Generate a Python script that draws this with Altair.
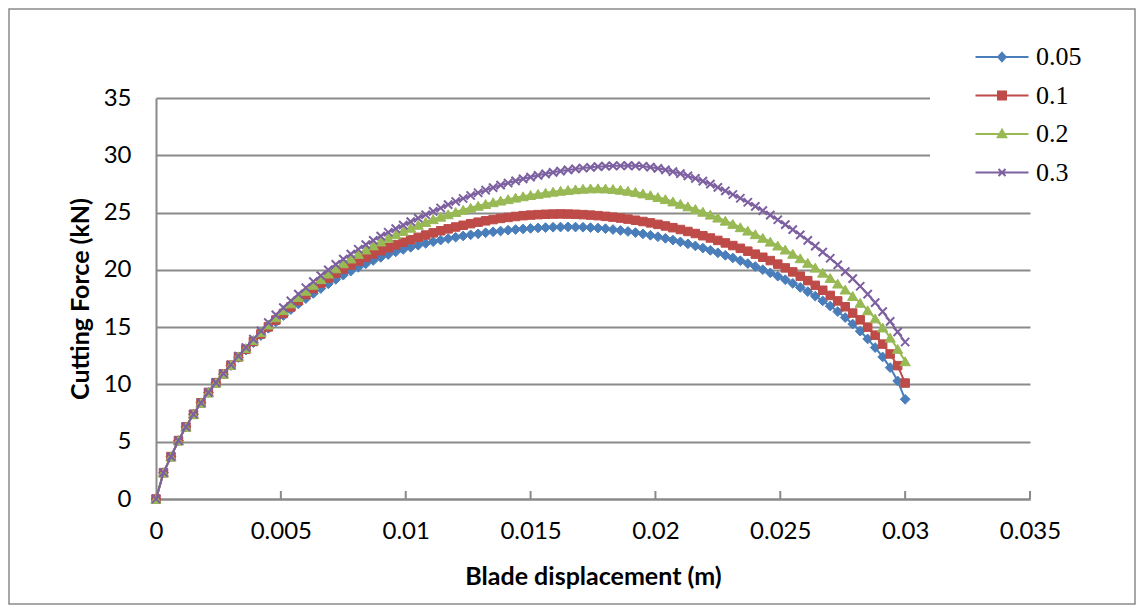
import altair as alt
import pandas as pd

# ---------------- data ----------------
series_names = ["0.05", "0.1", "0.2", "0.3"]
series_colors = ["#4A7EBB", "#BE4B48", "#98B954", "#7D60A0"]

step_m = 0.0003
displacement = [round(step_m * i, 4) for i in range(101)]

force_005 = [
    0, 2.3, 3.7, 5.1, 6.3, 7.4, 8.4, 9.3, 10.15, 10.9, 11.65,
    12.35, 13.0, 13.65, 14.27, 14.9, 15.47, 16.01, 16.53, 17.02, 17.49,
    17.94, 18.37, 18.78, 19.17, 19.54, 19.89, 20.22, 20.53, 20.82, 21.09,
    21.34, 21.57, 21.78, 21.97, 22.15, 22.31, 22.46, 22.6, 22.73, 22.85,
    22.96, 23.06, 23.15, 23.24, 23.32, 23.39, 23.46, 23.52, 23.57, 23.62,
    23.66, 23.69, 23.72, 23.74, 23.75, 23.74, 23.72, 23.69, 23.65, 23.59,
    23.52, 23.44, 23.35, 23.25, 23.14, 23.02, 22.89, 22.75, 22.6, 22.44,
    22.27, 22.09, 21.9, 21.7, 21.49, 21.27, 21.04, 20.8, 20.55, 20.29,
    20.02, 19.74, 19.45, 19.14, 18.82, 18.47, 18.1, 17.71, 17.29, 16.84,
    16.36, 15.84, 15.27, 14.65, 13.97, 13.22, 12.4, 11.47, 10.3, 8.7,
]
force_01 = [
    0, 2.3, 3.7, 5.1, 6.3, 7.4, 8.4, 9.3, 10.15, 10.92, 11.68,
    12.4, 13.08, 13.75, 14.4, 15.02, 15.62, 16.2, 16.76, 17.31, 17.84,
    18.36, 18.84, 19.28, 19.69, 20.07, 20.43, 20.77, 21.09, 21.39, 21.67,
    21.93, 22.18, 22.41, 22.63, 22.84, 23.04, 23.23, 23.41, 23.58, 23.74,
    23.89, 24.03, 24.16, 24.28, 24.39, 24.49, 24.58, 24.66, 24.73, 24.78,
    24.82, 24.85, 24.87, 24.88, 24.87, 24.85, 24.82, 24.78, 24.73, 24.67,
    24.6, 24.52, 24.43, 24.33, 24.22, 24.1, 23.97, 23.83, 23.68, 23.52,
    23.35, 23.17, 22.98, 22.78, 22.57, 22.35, 22.12, 21.88, 21.63, 21.37,
    21.1, 20.81, 20.5, 20.17, 19.82, 19.45, 19.06, 18.65, 18.22, 17.77,
    17.29, 16.78, 16.23, 15.64, 15.0, 14.3, 13.52, 12.66, 11.64, 10.12,
]
force_02 = [
    0, 2.3, 3.7, 5.1, 6.3, 7.4, 8.4, 9.3, 10.15, 10.93, 11.7,
    12.45, 13.17, 13.88, 14.56, 15.22, 15.86, 16.48, 17.07, 17.63, 18.17,
    18.69, 19.19, 19.67, 20.13, 20.57, 20.99, 21.39, 21.77, 22.13, 22.47,
    22.79, 23.1, 23.39, 23.67, 23.93, 24.18, 24.42, 24.64, 24.85, 25.05,
    25.24, 25.42, 25.59, 25.75, 25.9, 26.04, 26.17, 26.3, 26.42, 26.53,
    26.63, 26.73, 26.82, 26.9, 26.97, 27.03, 27.08, 27.11, 27.12, 27.1,
    27.06, 26.99, 26.9, 26.8, 26.67, 26.52, 26.35, 26.17, 25.97, 25.76,
    25.54, 25.31, 25.07, 24.82, 24.56, 24.29, 24.01, 23.72, 23.42, 23.11,
    22.79, 22.46, 22.12, 21.77, 21.4, 21.01, 20.61, 20.19, 19.75, 19.29,
    18.8, 18.28, 17.72, 17.12, 16.47, 15.76, 14.97, 14.08, 13.1, 12.02,
]
force_03 = [
    0, 2.3, 3.7, 5.1, 6.3, 7.4, 8.4, 9.3, 10.16, 10.95, 11.72,
    12.48, 13.22, 13.95, 14.68, 15.39, 16.07, 16.71, 17.3, 17.88, 18.44,
    18.98, 19.5, 20.0, 20.48, 20.94, 21.38, 21.8, 22.2, 22.58, 22.94,
    23.28, 23.6, 23.91, 24.21, 24.51, 24.81, 25.11, 25.4, 25.69, 25.97,
    26.23, 26.49, 26.73, 26.96, 27.18, 27.39, 27.58, 27.77, 27.94, 28.1,
    28.25, 28.38, 28.51, 28.62, 28.72, 28.81, 28.89, 28.95, 29.01, 29.05,
    29.08, 29.09, 29.1, 29.08, 29.04, 28.96, 28.86, 28.73, 28.58, 28.4,
    28.2, 27.98, 27.74, 27.48, 27.2, 26.9, 26.58, 26.25, 25.9, 25.54,
    25.17, 24.78, 24.37, 23.95, 23.51, 23.05, 22.57, 22.07, 21.55, 21.01,
    20.44, 19.85, 19.23, 18.57, 17.88, 17.14, 16.35, 15.5, 14.58, 13.7,
]

x_ticks = [0, 0.005, 0.01, 0.015, 0.02, 0.025, 0.03, 0.035]
y_ticks = [0, 5, 10, 15, 20, 25, 30, 35]

# ---------------- build table ----------------
all_forces = [force_005, force_01, force_02, force_03]
rows = []
for name, vals in zip(series_names, all_forces):
    for xv, fv in zip(displacement, vals):
        rows.append({"x": xv, "force": fv, "series": name})
df = pd.DataFrame(rows)
ticks_df = pd.DataFrame({"x": x_ticks[1:]})

# ---------------- style ----------------
W, H = 874, 401
PAD_L, PAD_T, PAD_R, PAD_B = 148, 90, 106, 106
GRID = "#8a8a8a"
FONT = "Lato"

x_enc = alt.X(
    "x:Q",
    scale=alt.Scale(domain=[0, 0.035], nice=False, zero=False),
    axis=alt.Axis(
        values=x_ticks, format="~g", grid=False, ticks=False,
        domainColor=GRID, domainWidth=2,
        labelFont=FONT, labelFontSize=24, labelColor="black",
        labelPadding=20, labelFlush=False, labelOverlap=False,
        title="Blade displacement (m)", titleFont=FONT, titleFontSize=25,
        titleFontWeight="bold", titleColor="black",
        titleY=77, titleBaseline="middle",
    ),
)
y_enc = alt.Y(
    "force:Q",
    scale=alt.Scale(domain=[0, 35], nice=False),
    axis=alt.Axis(
        values=y_ticks, grid=True, gridColor=GRID, gridWidth=2,
        ticks=False, domainColor=GRID, domainWidth=2,
        labelFont=FONT, labelFontSize=24, labelColor="black",
        labelPadding=25,
        title="Cutting Force (kN)", titleFont=FONT, titleFontSize=25,
        titleFontWeight="bold", titleColor="black",
        titleX=-76, titleBaseline="middle",
    ),
)

base = alt.Chart(df)

marker_specs = [
    dict(shape="diamond", size=95, filled=True),
    dict(shape="square", size=72, filled=True),
    dict(shape="triangle-up", size=105, filled=True),
    dict(shape="M-1,-1L1,1M-1,1L1,-1", size=68, filled=False),
]

layers = []

# outer chart border (decoration)
layers.append(
    alt.Chart(pd.DataFrame({"k": [0]})).mark_rect(
        fill="white", fillOpacity=0, stroke="#8a8a8a", strokeWidth=1.5
    ).encode(
        x=alt.value(-PAD_L + 1), x2=alt.value(W + PAD_R - 1),
        y=alt.value(-PAD_T + 1), y2=alt.value(H + PAD_B - 1),
    )
)

for name, col, spec in zip(series_names, series_colors, marker_specs):
    sub = base.transform_filter(alt.datum.series == name)
    layers.append(
        sub.mark_line(strokeWidth=2, color=col).encode(x=x_enc, y=y_enc)
    )
    if spec["filled"]:
        pt = sub.mark_point(
            filled=True, shape=spec["shape"], size=spec["size"],
            color=col, stroke=col, strokeWidth=1, opacity=1,
        )
    else:
        pt = sub.mark_point(
            filled=False, shape=spec["shape"], size=spec["size"],
            color=col, strokeWidth=2, opacity=1,
        )
    layers.append(pt.encode(x=x_enc, y=y_enc))

# inner x-axis tick marks (pointing up)
layers.append(
    alt.Chart(ticks_df).mark_rule(color=GRID, strokeWidth=2).encode(
        x=x_enc, y=alt.value(H), y2=alt.value(H - 8)
    )
)

# white legend backdrop covering the gridlines
layers.append(
    alt.Chart(pd.DataFrame({"k": [0]})).mark_rect(fill="white").encode(
        x=alt.value(774), x2=alt.value(W + 3),
        y=alt.value(-62), y2=alt.value(100),
    )
)

# legend symbols: line + marker (nested outlines look filled)
line_seg = "M-2.65,0L2.65,0"
legend_paths = [
    line_seg + "M0,-0.42L0.38,0L0,0.42L-0.38,0Z"
    "M0,-0.24L0.2,0L0,0.24L-0.2,0Z M0,-0.07L0.06,0L0,0.07L-0.06,0Z",
    line_seg + "M-0.4,-0.4H0.4V0.4H-0.4Z"
    "M-0.22,-0.22H0.22V0.22H-0.22Z M-0.06,-0.06H0.06V0.06H-0.06Z",
    line_seg + "M0,-0.42L0.42,0.32L-0.42,0.32Z"
    "M0,-0.18L0.22,0.18L-0.22,0.18Z M0,0.02L0.06,0.1L-0.06,0.1Z",
    line_seg + "M-0.35,-0.35L0.35,0.35M-0.35,0.35L0.35,-0.35",
]
leg = alt.Legend(
    title=None, orient="none", legendX=833, legendY=-54, padding=0,
    direction="vertical", labelFont="Liberation Serif", labelFontSize=26,
    labelColor="black", labelOffset=21, rowPadding=12.5,
    symbolSize=400, symbolStrokeWidth=2, symbolFillColor="transparent",
)
layers.append(
    base.transform_filter("false").mark_point(
        size=400, opacity=1, filled=False, strokeWidth=2
    ).encode(
        x=x_enc, y=y_enc,
        color=alt.Color("series:N", scale=alt.Scale(domain=series_names, range=series_colors), legend=leg),
        shape=alt.Shape("series:N", scale=alt.Scale(domain=series_names, range=legend_paths), legend=leg),
    )
)

chart = alt.layer(*layers).properties(
    width=W, height=H,
    autosize=alt.AutoSizeParams(type="none"),
    padding={"left": PAD_L, "top": PAD_T, "right": PAD_R, "bottom": PAD_B},
    background="white",
).configure_view(stroke=None)

chart.save("out.html", embed_options={"renderer": "svg", "actions": False})
